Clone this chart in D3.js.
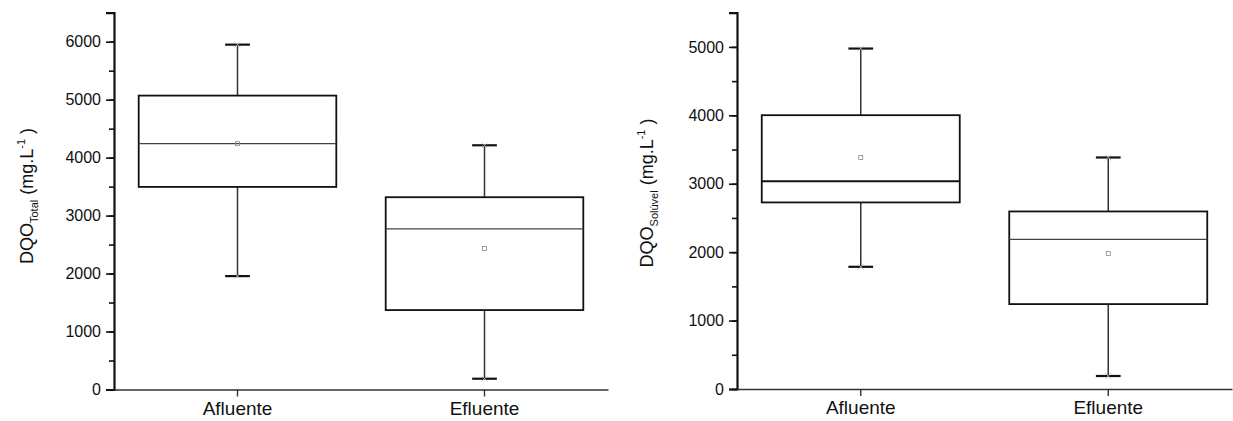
<!DOCTYPE html>
<html>
<head>
<meta charset="utf-8">
<script src="https://cdn.jsdelivr.net/npm/d3@7"></script>
<style>
  html, body { margin: 0; padding: 0; background: #fff; }
  svg { display: block; }
  text { font-family: Arial, "Liberation Sans", sans-serif; fill: #111; }
</style>
</head>
<body>
<svg id="chart" width="1233" height="421"></svg>
<script>
// Categories shared by both panels
const categories = ["Afluente", "Efluente"];

// DQO total (mg/L): box statistics per category
const totalMin    = [1956, 186];
const totalQ1     = [3495, 1370];
const totalMedian = [4243, 2771];
const totalQ3     = [5070, 3317];
const totalMax    = [5949, 4213];
const totalMean   = [4240, 2433];

// DQO solúvel (mg/L): box statistics per category
const solMin    = [1786, 190];
const solQ1     = [2727, 1241];
const solMedian = [3038, 2186];
const solQ3     = [4002, 2595];
const solMax    = [4976, 3384];
const solMean   = [3384, 1982];

// Tick labels
const totalTicks = [0, 1000, 2000, 3000, 4000, 5000, 6000];
const solTicks   = [0, 1000, 2000, 3000, 4000, 5000];

const svg = d3.select("#chart");

function buildRows(mins, q1s, meds, q3s, maxs, means) {
  return categories.map((c, i) => ({
    cat: c, min: mins[i], q1: q1s[i], med: meds[i], q3: q3s[i], max: maxs[i], mean: means[i]
  }));
}

function panel(opts) {
  const g = svg.append("g");
  const x = d3.scaleBand().domain(categories)
    .range([opts.x0, opts.x1]).paddingInner(0.2).paddingOuter(0.1);
  const y = d3.scaleLinear().domain([0, opts.yMax]).range([opts.yBottom, opts.yTop]);

  const minor = d3.range(0, opts.yMax + 1, 500);

  // minor ticks
  g.append("g")
    .attr("transform", `translate(${opts.x0},0)`)
    .call(d3.axisLeft(y).tickValues(minor).tickSize(5).tickFormat(""))
    .call(a => a.select(".domain").remove())
    .call(a => a.selectAll("line").attr("stroke", "#111").attr("stroke-width", 1.6));

  // major ticks + labels
  const yAxis = g.append("g")
    .attr("transform", `translate(${opts.x0},0)`)
    .call(d3.axisLeft(y).tickValues(opts.ticks).tickSize(8).tickPadding(5).tickFormat(d3.format("d")));
  yAxis.select(".domain").attr("stroke", "#111").attr("stroke-width", 2.2);
  yAxis.selectAll(".tick line").attr("stroke", "#111").attr("stroke-width", 1.6);
  yAxis.selectAll(".tick text").attr("font-size", 16).attr("fill", "#111")
    .attr("font-family", "Arial, 'Liberation Sans', sans-serif");

  // x axis
  const xAxis = g.append("g")
    .attr("transform", `translate(0,${opts.yBottom})`)
    .call(d3.axisBottom(x).tickSize(7).tickPadding(5).tickSizeOuter(0));
  xAxis.select(".domain").attr("stroke", "#333").attr("stroke-width", 1.6);
  xAxis.selectAll(".tick line").attr("stroke", "#333").attr("stroke-width", 1.4);
  xAxis.selectAll(".tick text").attr("font-size", 19).attr("fill", "#111")
    .attr("font-family", "Arial, 'Liberation Sans', sans-serif");

  const bw = x.bandwidth();
  const cap = bw * 0.125;
  const boxes = g.selectAll(".box").data(opts.rows).join("g").attr("class", "box");
  const cx = d => x(d.cat) + bw / 2;

  // whiskers
  boxes.append("line")
    .attr("x1", cx).attr("x2", cx)
    .attr("y1", d => y(d.max)).attr("y2", d => y(d.q3))
    .attr("stroke", "#333").attr("stroke-width", 1.5);
  boxes.append("line")
    .attr("x1", cx).attr("x2", cx)
    .attr("y1", d => y(d.q1)).attr("y2", d => y(d.min))
    .attr("stroke", "#333").attr("stroke-width", 1.5);

  // whisker caps
  ["max", "min"].forEach(k => {
    boxes.append("line")
      .attr("x1", d => cx(d) - cap / 2).attr("x2", d => cx(d) + cap / 2)
      .attr("y1", d => y(d[k])).attr("y2", d => y(d[k]))
      .attr("stroke", "#111").attr("stroke-width", 2.2);
    // faint min/max markers
    boxes.append("path")
      .attr("transform", d => `translate(${cx(d)},${y(d[k])})`)
      .attr("d", "M-3,-3L3,3M-3,3L3,-3")
      .attr("stroke", "#c8c8c8").attr("stroke-width", 0.8).attr("fill", "none");
  });

  // box
  boxes.append("rect")
    .attr("x", d => x(d.cat)).attr("width", bw)
    .attr("y", d => y(d.q3)).attr("height", d => y(d.q1) - y(d.q3))
    .attr("fill", "#fff").attr("stroke", "#111").attr("stroke-width", 1.8);

  // median
  boxes.append("line")
    .attr("x1", d => x(d.cat)).attr("x2", d => x(d.cat) + bw)
    .attr("y1", d => y(d.med)).attr("y2", d => y(d.med))
    .attr("stroke", (d, i) => opts.boldMedian[i] ? "#111" : "#444")
    .attr("stroke-width", (d, i) => opts.boldMedian[i] ? 2 : 1.3);

  // mean marker
  boxes.append("rect")
    .attr("x", d => cx(d) - 2).attr("y", d => y(d.mean) - 2)
    .attr("width", 4).attr("height", 4)
    .attr("fill", "none").attr("stroke", "#888").attr("stroke-width", 0.8);

  // y title
  const t = g.append("text")
    .attr("transform", `translate(${opts.titleX},${opts.titleY}) rotate(-90)`)
    .attr("text-anchor", "middle")
    .attr("font-size", 18);
  t.append("tspan").text("DQO");
  t.append("tspan").attr("font-size", 11).attr("dy", 5).text(opts.sub);
  t.append("tspan").attr("dy", -5).text(" (mg.L");
  t.append("tspan").attr("font-size", 11).attr("dy", -8).text("-1");
  t.append("tspan").attr("dy", 8).text(" )");
}

panel({
  x0: 114, x1: 608, yBottom: 389.5, yTop: 12.7, yMax: 6500,
  ticks: totalTicks, sub: "Total", titleX: 33, titleY: 196,
  boldMedian: [false, false],
  rows: buildRows(totalMin, totalQ1, totalMedian, totalQ3, totalMax, totalMean)
});

panel({
  x0: 737, x1: 1232, yBottom: 389, yTop: 12.7, yMax: 5500,
  ticks: solTicks, sub: "Solúvel", titleX: 653, titleY: 193,
  boldMedian: [true, false],
  rows: buildRows(solMin, solQ1, solMedian, solQ3, solMax, solMean)
});
</script>
</body>
</html>
